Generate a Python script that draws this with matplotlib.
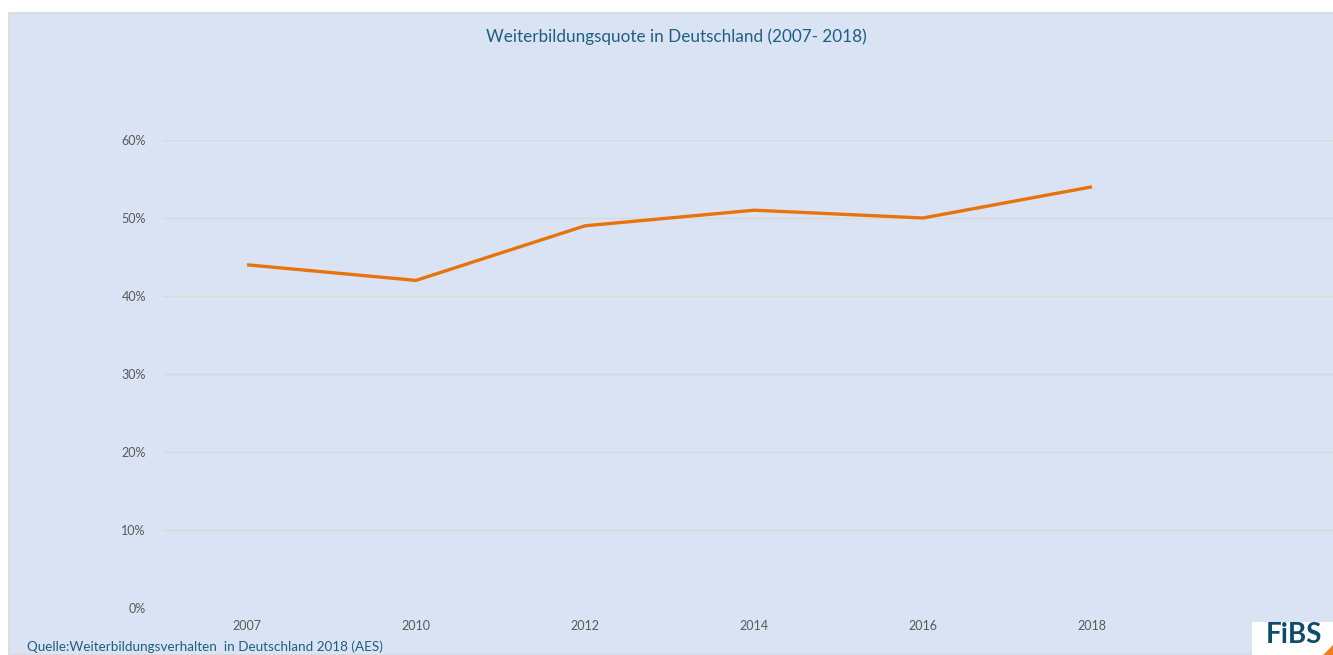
import matplotlib.pyplot as plt
from matplotlib.patches import Rectangle, Polygon
from matplotlib.ticker import PercentFormatter

jahre = ['2007', '2010', '2012', '2014', '2016', '2018']
quote = [44, 42, 49, 51, 50, 54]  # Weiterbildungsquote in %
y_ticks = [0, 10, 20, 30, 40, 50, 60]

W, H = 1333, 655
fig = plt.figure(figsize=(W / 100, H / 100), dpi=100)
fig.patch.set_facecolor('white')
plt.rcParams['font.family'] = ['Lato', 'DejaVu Sans']

# chart area (light blue box with grey border), behind the axes
fig.patches.append(Rectangle((9 / W, 0), 1, 1 - 13 / H, transform=fig.transFigure,
                             facecolor='#dae3f3', edgecolor='#d9d9d9', linewidth=1.2, zorder=-5))

# plot area: 7 category slots, the last one empty and cut off at the right
left, right = 162.5, 162.5 + 7 * 169
top, bottom = 140, 608
ax = fig.add_axes([left / W, 1 - bottom / H, (right - left) / W, (bottom - top) / H])
ax.set_facecolor('none')
x = list(range(len(jahre)))
ax.plot(x, quote, color='#e8730c', linewidth=2.4, solid_capstyle='butt', zorder=3)
ax.set_xlim(-0.5, 6.5)
ax.set_ylim(0, 60)
ax.set_yticks(y_ticks)
ax.yaxis.set_major_formatter(PercentFormatter(decimals=0))
ax.set_xticks(x)
ax.set_xticklabels(jahre)
ax.grid(axis='y', color='#d9d9d9', linewidth=1.0)
ax.set_axisbelow(True)
for s in ax.spines.values():
    s.set_visible(False)
ax.tick_params(length=0, labelsize=9, labelcolor='#595959')
ax.tick_params(axis='y', pad=12)
ax.tick_params(axis='x', pad=9)

fig.text(676 / W, 1 - 37 / H, 'Weiterbildungsquote in Deutschland (2007- 2018)',
         ha='center', va='center', fontsize=12.3, color='#1f5f7f')
fig.text(27 / W, 1 - 647 / H, 'Quelle:Weiterbildungsverhalten  in Deutschland 2018 (AES)',
         ha='left', va='center', fontsize=9.7, color='#1f5f7f')

# FiBS logo
fig.patches.append(Rectangle((1252 / W, 0), 81 / W, 33 / H, transform=fig.transFigure,
                             facecolor='white', edgecolor='none', zorder=5))
fig.patches.append(Polygon([(1333 / W, 0), (1333 / W, 10 / H), (1323 / W, 0)],
                           transform=fig.transFigure, facecolor='#f07f1e', edgecolor='none', zorder=6))
fig.text(1294 / W, 1 - 635 / H, 'FiBS', ha='center', va='center', fontsize=20,
         fontweight='bold', color='#0e4c6b', zorder=7)

fig.savefig('out.png', dpi=100)
